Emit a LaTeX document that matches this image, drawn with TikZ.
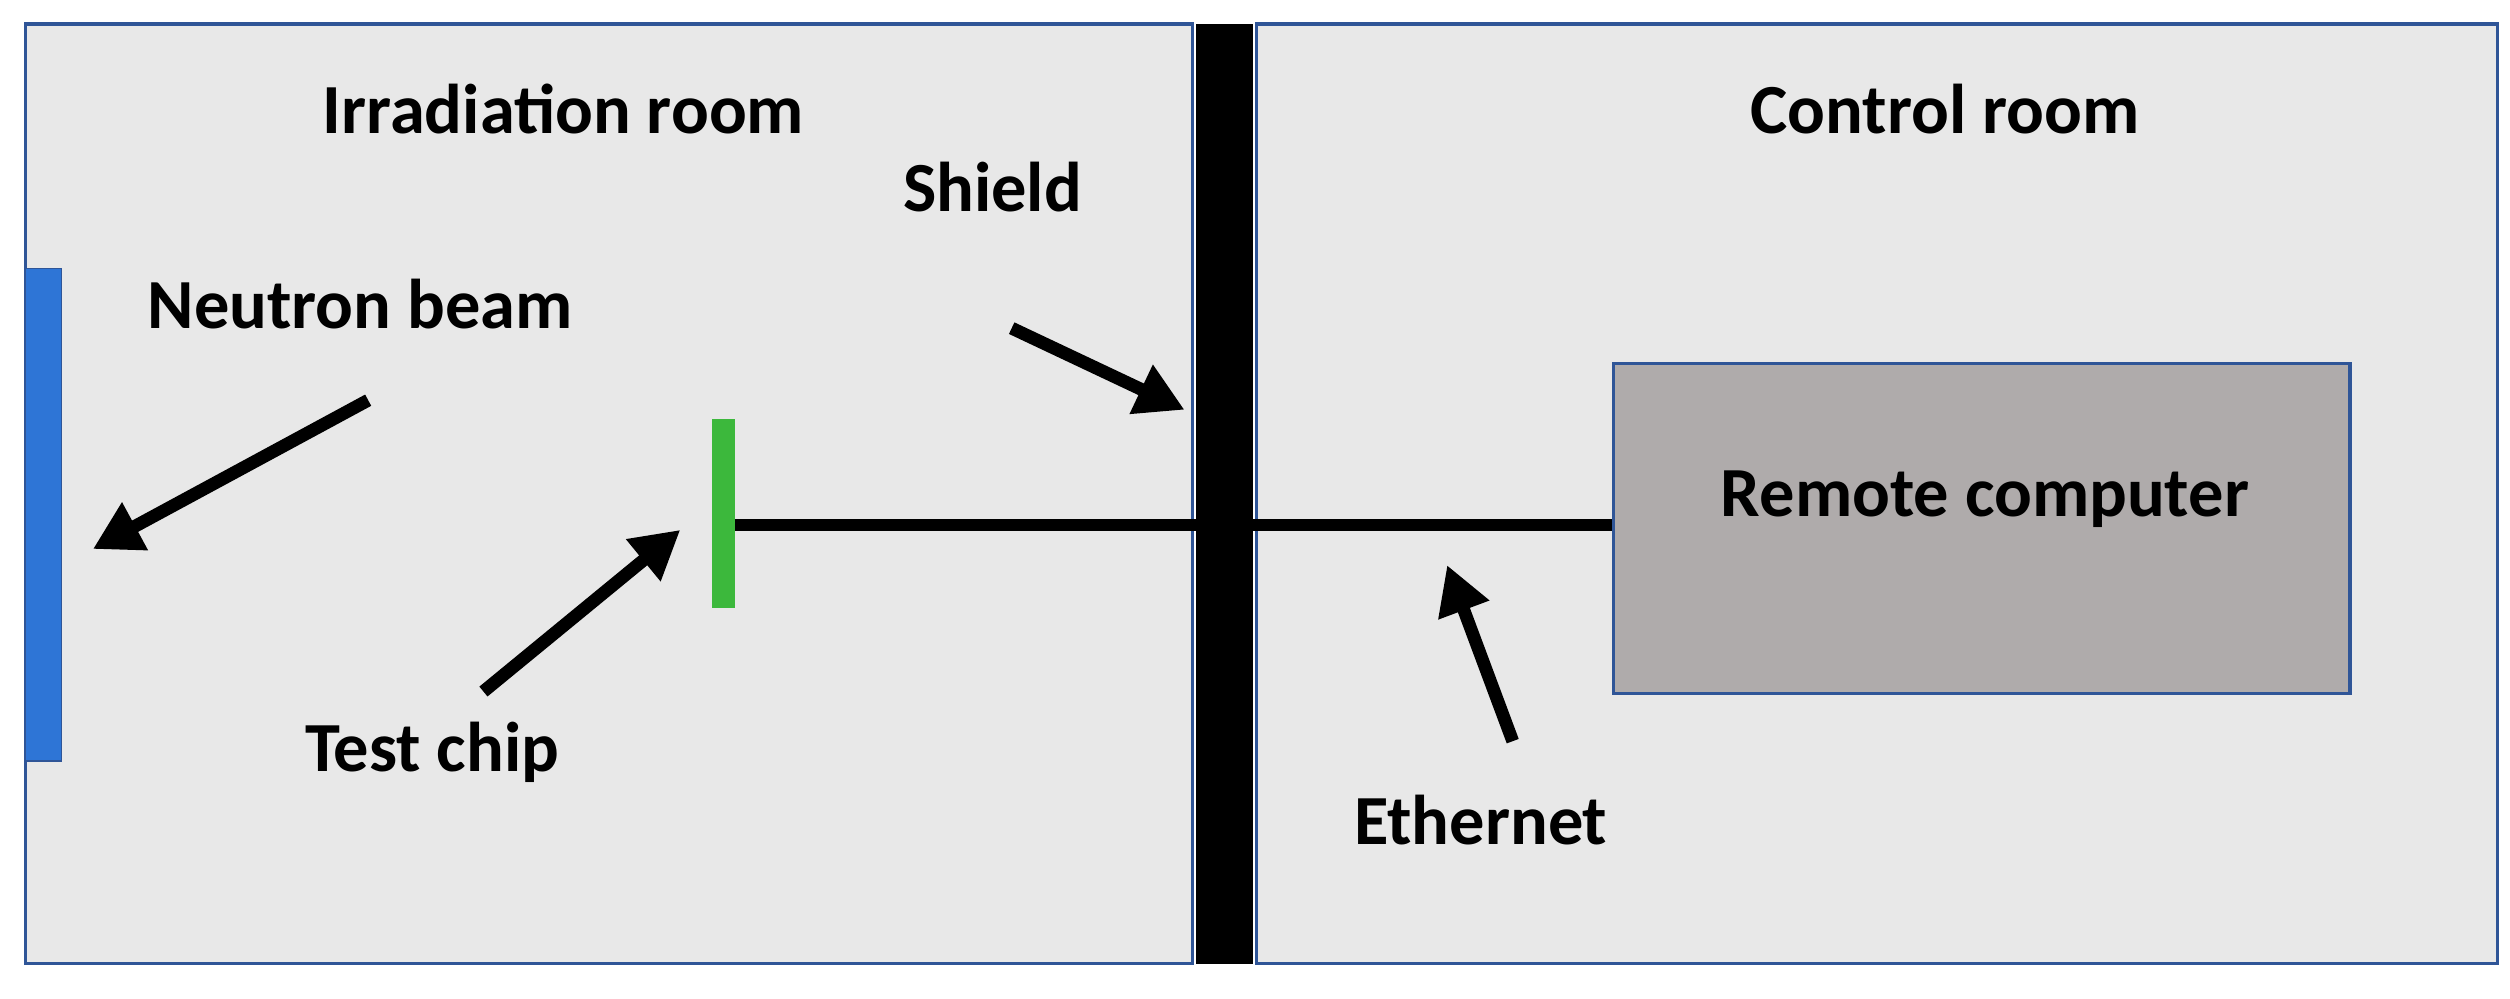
\documentclass[tikz,border=0pt]{standalone}
\usepackage{fontspec}
\setmainfont{Carlito}
\usetikzlibrary{arrows.meta}
\definecolor{roomgray}{HTML}{E8E8E8}
\definecolor{bordblue}{HTML}{2F5597}
\definecolor{beamblue}{HTML}{2E75D6}
\definecolor{chipgreen}{HTML}{3CB83C}
\definecolor{pcgray}{HTML}{AFABAB}
\begin{document}
\begin{tikzpicture}[x=1pt,y=-1pt,
  room/.style={draw=bordblue,line width=2,fill=roomgray},
  lbl/.style={font=\fontsize{44}{50}\selectfont\bfseries,inner sep=0},
  arr/.style={line width=8,-{Triangle[length=30,width=32]}}]
\useasboundingbox (0,0) rectangle (1568,624);
\fill[white] (0,0) rectangle (1568,624);
\draw[room] (16,15) rectangle (745,602);
\draw[room] (785,15) rectangle (1560,602);
\fill[black] (747,15) rectangle (783,602);
\draw[bordblue,line width=1.5] (16,168) rectangle (38,475);
\fill[beamblue] (16,168) rectangle (38,475);
\fill[chipgreen] (445,262) rectangle (459,380);
\node[draw=bordblue,line width=2,fill=pcgray,minimum width=460,minimum height=206,anchor=north west] (pc) at (1007,226) {};
\coordinate (chip) at (459,328);
\draw[line width=8] (chip) -- (pc.west |- chip);
\node[lbl] (ir) at (352,68) {Irradiation room};
\node[lbl] (cr) at (1215,68) {Control room};
\node[lbl] (sh) at (620,117) {Shield};
\node[lbl] (nb) at (225,190) {Neutron beam};
\node[lbl] (tc) at (270,470) {Test chip};
\node[lbl] (et) at (925,512) {Ethernet};
\node[lbl] at (1240,312) {Remote computer};
\coordinate (a1s) at (230,250); \coordinate (a1e) at (58,343);
\coordinate (a2s) at (632,205); \coordinate (a2e) at (740,256);
\coordinate (a3s) at (302,432); \coordinate (a3e) at (425,331);
\coordinate (a4s) at (945,463); \coordinate (a4e) at (904,353);
\draw[arr] (a1s) -- (a1e);
\draw[arr] (a2s) -- (a2e);
\draw[arr] (a3s) -- (a3e);
\draw[arr] (a4s) -- (a4e);
\end{tikzpicture}
\end{document}
